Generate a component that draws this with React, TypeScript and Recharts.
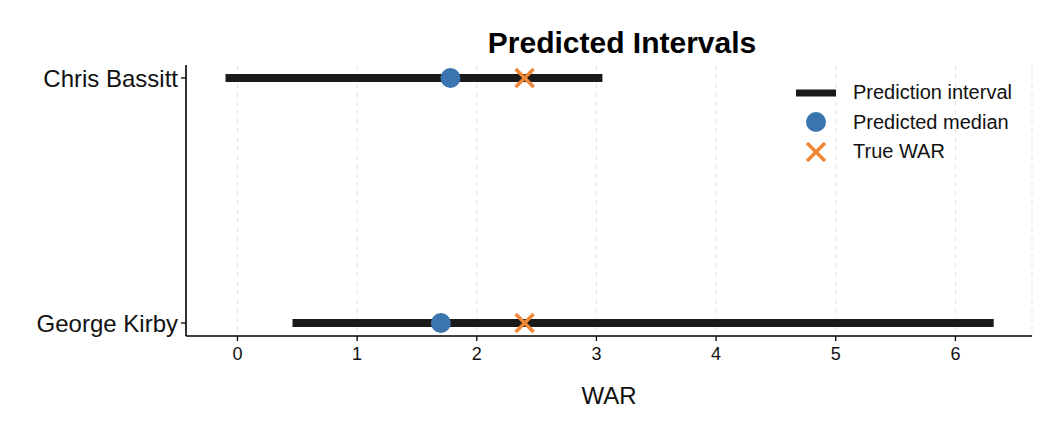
import React from "react";
import {
  ComposedChart,
  Scatter,
  XAxis,
  YAxis,
  CartesianGrid,
  Label,
} from "recharts";

// players from bottom (y = 0) to top (y = 1)
const players = ["George Kirby", "Chris Bassitt"];
const lower = [0.46, -0.1];
const upper = [6.32, 3.05];
const median = [1.7, 1.78];
const trueWar = [2.4, 2.4];
const xTicks = [0, 1, 2, 3, 4, 5, 6];

const FONT = "'Liberation Sans', Arial, Helvetica, sans-serif";
const BLUE = "#3a75b0";
const ORANGE = "#ef8636";
const DARK = "#1a1a1a";

const intervals = players.map((name, i) => ({
  name,
  points: [
    { x: lower[i], y: i },
    { x: upper[i], y: i },
  ],
}));
const medianPoints = players.map((_, i) => ({ x: median[i], y: i }));
const truePoints = players.map((_, i) => ({ x: trueWar[i], y: i }));

const Dot = (props: any) => (
  <circle cx={props.cx} cy={props.cy} r={10} fill={BLUE} />
);

const Cross = (props: any) => {
  const { cx, cy } = props;
  const s = 9;
  return (
    <g stroke={ORANGE} strokeWidth={3.5}>
      <line x1={cx - s} y1={cy - s} x2={cx + s} y2={cy + s} />
      <line x1={cx - s} y1={cy + s} x2={cx + s} y2={cy - s} />
    </g>
  );
};

const Empty = () => <g />;

function LegendBox() {
  const row = { display: "flex", alignItems: "center", height: 29.5 };
  const text = { fontFamily: FONT, fontSize: 20, color: "#111", marginLeft: 17 };
  return (
    <div style={{ position: "absolute", left: 796, top: 78 }}>
      <div style={row}>
        <svg width={40} height={20}>
          <line x1={0} y1={10} x2={40} y2={10} stroke={DARK} strokeWidth={7} />
        </svg>
        <span style={text}>Prediction interval</span>
      </div>
      <div style={row}>
        <svg width={40} height={22}>
          <circle cx={20} cy={11} r={10} fill={BLUE} />
        </svg>
        <span style={text}>Predicted median</span>
      </div>
      <div style={row}>
        <svg width={40} height={20}>
          <g stroke={ORANGE} strokeWidth={3.5}>
            <line x1={11} y1={1} x2={29} y2={19} />
            <line x1={11} y1={19} x2={29} y2={1} />
          </g>
        </svg>
        <span style={text}>True WAR</span>
      </div>
    </div>
  );
}

export default function App() {
  return (
    <div style={{ position: "absolute", left: 0, top: 0, width: 1062, height: 440, background: "#fff" }}>
      <ComposedChart
        width={1062}
        height={440}
        margin={{ top: 65, right: 30, left: 0, bottom: 0 }}
      >
        <CartesianGrid
          horizontal={false}
          stroke="#e3e3e3"
          strokeDasharray="5 4"
        />
        <XAxis
          type="number"
          dataKey="x"
          domain={[-0.43, 6.64]}
          ticks={xTicks}
          allowDataOverflow
          height={104}
          tickSize={5}
          tickMargin={6}
          axisLine={{ stroke: "#000", strokeWidth: 1.6 }}
          tickLine={{ stroke: "#000", strokeWidth: 1.3 }}
          tick={{ fill: "#111", fontSize: 18, fontFamily: FONT }}
        >
          <Label
            value="WAR"
            position="insideBottom"
            offset={36}
            style={{ fill: "#111", fontSize: 24, fontFamily: FONT }}
          />
        </XAxis>
        <YAxis
          type="number"
          dataKey="y"
          domain={[-0.053, 1.053]}
          ticks={[0, 1]}
          allowDataOverflow
          width={186}
          tickSize={5}
          tickMargin={3}
          axisLine={{ stroke: "#000", strokeWidth: 1.6 }}
          tickLine={{ stroke: "#000", strokeWidth: 1.3 }}
          tickFormatter={(v: number) => players[v] ?? ""}
          tick={{ fill: "#111", fontSize: 24, fontFamily: FONT }}
        />
        {intervals.map((iv) => (
          <Scatter
            key={iv.name}
            data={iv.points}
            line={{ stroke: DARK, strokeWidth: 8 }}
            shape={Empty}
            legendType="none"
            isAnimationActive={false}
          />
        ))}
        <Scatter
          data={medianPoints}
          shape={Dot}
          fill={BLUE}
          isAnimationActive={false}
        />
        <Scatter
          data={truePoints}
          shape={Cross}
          fill={ORANGE}
          isAnimationActive={false}
        />
      </ComposedChart>
      <div
        style={{
          position: "absolute",
          left: 199,
          width: 846,
          top: 26,
          textAlign: "center",
          fontFamily: FONT,
          fontWeight: "bold",
          fontSize: 30,
          color: "#000",
        }}
      >
        Predicted Intervals
      </div>
      <LegendBox />
    </div>
  );
}
